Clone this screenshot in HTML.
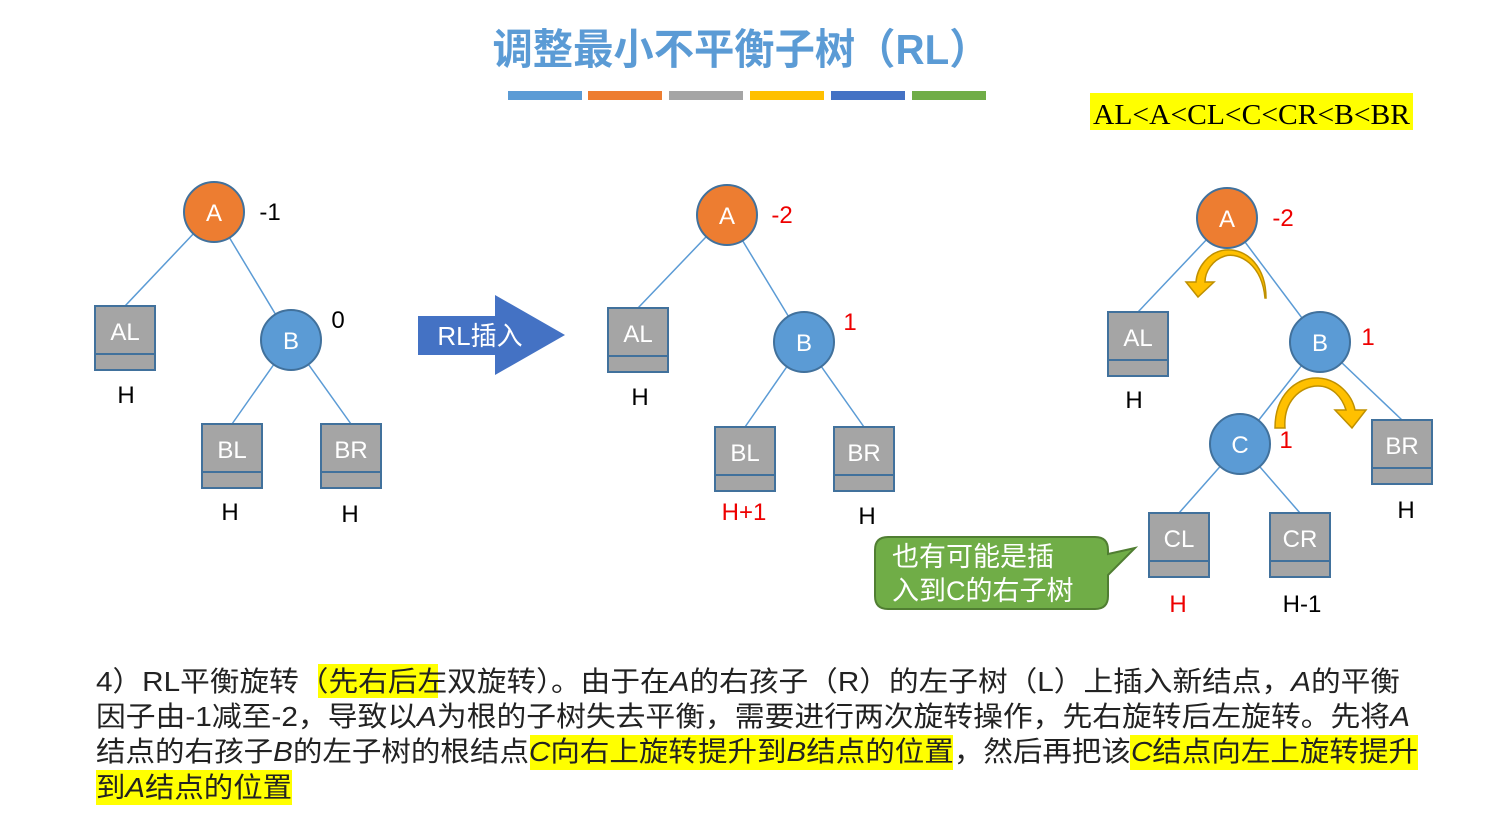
<!DOCTYPE html>
<html><head><meta charset="utf-8"><style>
html,body{margin:0;padding:0;background:#fff;}
svg{display:block;}
text{font-family:"Liberation Sans","Noto Sans CJK SC",sans-serif;}
</style></head><body>
<svg width="1500" height="824" viewBox="0 0 1500 824" xmlns="http://www.w3.org/2000/svg">
<defs>
<g id="box"><rect x="0" y="0" width="60" height="64" fill="#a5a5a5" stroke="#41719c" stroke-width="2"/><line x1="0" y1="48" x2="60" y2="48" stroke="#41719c" stroke-width="2"/></g>
</defs>
<!-- title -->
<text x="741" y="64" font-size="42" fill="#5b9bd5" text-anchor="middle" font-weight="bold" textLength="497" lengthAdjust="spacingAndGlyphs">调整最小不平衡子树（RL）</text>
<rect x="508" y="91" width="74" height="9" fill="#5b9bd5"/>
<rect x="588" y="91" width="74" height="9" fill="#ed7d31"/>
<rect x="669" y="91" width="74" height="9" fill="#a5a5a5"/>
<rect x="750" y="91" width="74" height="9" fill="#ffc000"/>
<rect x="831" y="91" width="74" height="9" fill="#4472c4"/>
<rect x="912" y="91" width="74" height="9" fill="#70ad47"/>
<rect x="1090" y="93" width="323" height="37" fill="#ffff00"/>
<text x="1093" y="124" font-size="28" font-family="Liberation Serif,serif" style="font-family:'Liberation Serif',serif" textLength="317" lengthAdjust="spacingAndGlyphs">AL&lt;A&lt;CL&lt;C&lt;CR&lt;B&lt;BR</text>

<g stroke="#5b9bd5" stroke-width="1.5">
<line x1="214" y1="212" x2="125" y2="306"/><line x1="214" y1="212" x2="291" y2="340"/>
<line x1="291" y1="340" x2="232" y2="424"/><line x1="291" y1="340" x2="351" y2="424"/>
<line x1="727" y1="215" x2="638" y2="308"/><line x1="727" y1="215" x2="804" y2="342"/>
<line x1="804" y1="342" x2="745" y2="427"/><line x1="804" y1="342" x2="864" y2="427"/>
<line x1="1227" y1="218" x2="1138" y2="312"/><line x1="1227" y1="218" x2="1320" y2="342"/>
<line x1="1320" y1="342" x2="1240" y2="444"/><line x1="1320" y1="342" x2="1402" y2="420"/>
<line x1="1240" y1="444" x2="1179" y2="513"/><line x1="1240" y1="444" x2="1300" y2="513"/>
</g>
<g font-size="24" fill="#fff" text-anchor="middle">
<use href="#box" x="95" y="306"/><text x="125" y="340">AL</text>
<use href="#box" x="202" y="424"/><text x="232" y="458">BL</text>
<use href="#box" x="321" y="424"/><text x="351" y="458">BR</text>
<use href="#box" x="608" y="308"/><text x="638" y="342">AL</text>
<use href="#box" x="715" y="427"/><text x="745" y="461">BL</text>
<use href="#box" x="834" y="427"/><text x="864" y="461">BR</text>
<use href="#box" x="1108" y="312"/><text x="1138" y="346">AL</text>
<use href="#box" x="1372" y="420"/><text x="1402" y="454">BR</text>
<use href="#box" x="1149" y="513"/><text x="1179" y="547">CL</text>
<use href="#box" x="1270" y="513"/><text x="1300" y="547">CR</text>
</g>
<g stroke="#41719c" stroke-width="2">
<circle cx="214" cy="212" r="30" fill="#ed7d31"/><circle cx="291" cy="340" r="30" fill="#5b9bd5"/>
<circle cx="727" cy="215" r="30" fill="#ed7d31"/><circle cx="804" cy="342" r="30" fill="#5b9bd5"/>
<circle cx="1227" cy="218" r="30" fill="#ed7d31"/><circle cx="1320" cy="342" r="30" fill="#5b9bd5"/>
<circle cx="1240" cy="444" r="30" fill="#5b9bd5"/>
</g>
<g font-size="24" fill="#fff" text-anchor="middle">
<text x="214" y="221">A</text><text x="291" y="349">B</text>
<text x="727" y="224">A</text><text x="804" y="351">B</text>
<text x="1227" y="227">A</text><text x="1320" y="351">B</text><text x="1240" y="453">C</text>
</g>
<g font-size="24" fill="#000" text-anchor="middle">
<text x="270" y="220">-1</text><text x="338" y="328">0</text>
<text x="126" y="403">H</text><text x="230" y="520">H</text><text x="350" y="522">H</text>
<text x="640" y="405">H</text><text x="867" y="524">H</text>
<text x="1134" y="408">H</text><text x="1406" y="518">H</text><text x="1302" y="612">H-1</text>
</g>
<g font-size="24" fill="#e00" text-anchor="middle">
<text x="782" y="223">-2</text><text x="850" y="330">1</text><text x="744" y="520">H+1</text>
<text x="1283" y="226">-2</text><text x="1368" y="345">1</text><text x="1286" y="448">1</text><text x="1178" y="612">H</text>
</g>
<!-- block arrow -->
<path d="M418 316 H495 V295 L565 335 L495 375 V355 H418 Z" fill="#4472c4"/>
<text x="480" y="345" font-size="26" fill="#fff" text-anchor="middle">RL插入</text>
<!-- curved arrows -->
<path d="M1265 298 C1262 265 1240 252 1225 256 C1212 260 1205 272 1205 282 L1214 282 L1198 297 L1186 282 L1196 282 C1197 268 1208 252 1225 250 C1248 248 1266 268 1266 298 Z" fill="#ffc000" stroke="#bf9000" stroke-width="1.5"/>
<path d="M1275 428 C1275 395 1296 377 1318 378 C1338 379 1352 395 1355 410 L1366 410 L1352 428 L1335 410 L1346 410 C1342 397 1332 386 1318 386 C1300 386 1283 402 1285 428 Z" fill="#ffc000" stroke="#bf9000" stroke-width="1.5"/>
<!-- callout -->
<path d="M888 537 H1095 Q1108 537 1108 550 V554 L1135 548 L1108 575 V596 Q1108 609 1095 609 H888 Q875 609 875 596 V550 Q875 537 888 537 Z" fill="#70ad47" stroke="#507e32" stroke-width="2"/>
<text x="892" y="566" font-size="27" fill="#fff">也有可能是插</text>
<text x="892" y="600" font-size="27" fill="#fff">入到C的右子树</text>
<!-- paragraph -->
<rect x="318" y="664" width="120" height="34" fill="#ffff00"/>
<rect x="530" y="735" width="423" height="35" fill="#ffff00"/>
<rect x="1130" y="735" width="288" height="35" fill="#ffff00"/>
<rect x="96" y="770" width="196" height="35" fill="#ffff00"/>
<g font-size="28" fill="#222">
<text x="96" y="691" textLength="1304" lengthAdjust="spacingAndGlyphs">4）RL平衡旋转（先右后左双旋转）。由于在<tspan font-style="italic">A</tspan>的右孩子（R）的左子树（L）上插入新结点，<tspan font-style="italic">A</tspan>的平衡</text>
<text x="96" y="726" textLength="1314" lengthAdjust="spacingAndGlyphs">因子由-1减至-2，导致以<tspan font-style="italic">A</tspan>为根的子树失去平衡，需要进行两次旋转操作，先右旋转后左旋转。先将<tspan font-style="italic">A</tspan></text>
<text x="96" y="761" textLength="1322" lengthAdjust="spacingAndGlyphs">结点的右孩子<tspan font-style="italic">B</tspan>的左子树的根结点<tspan font-style="italic">C</tspan>向右上旋转提升到<tspan font-style="italic">B</tspan>结点的位置，然后再把该<tspan font-style="italic">C</tspan>结点向左上旋转提升</text>
<text x="96" y="797" textLength="196" lengthAdjust="spacingAndGlyphs">到<tspan font-style="italic">A</tspan>结点的位置</text>
</g>
</svg>
</body></html>
